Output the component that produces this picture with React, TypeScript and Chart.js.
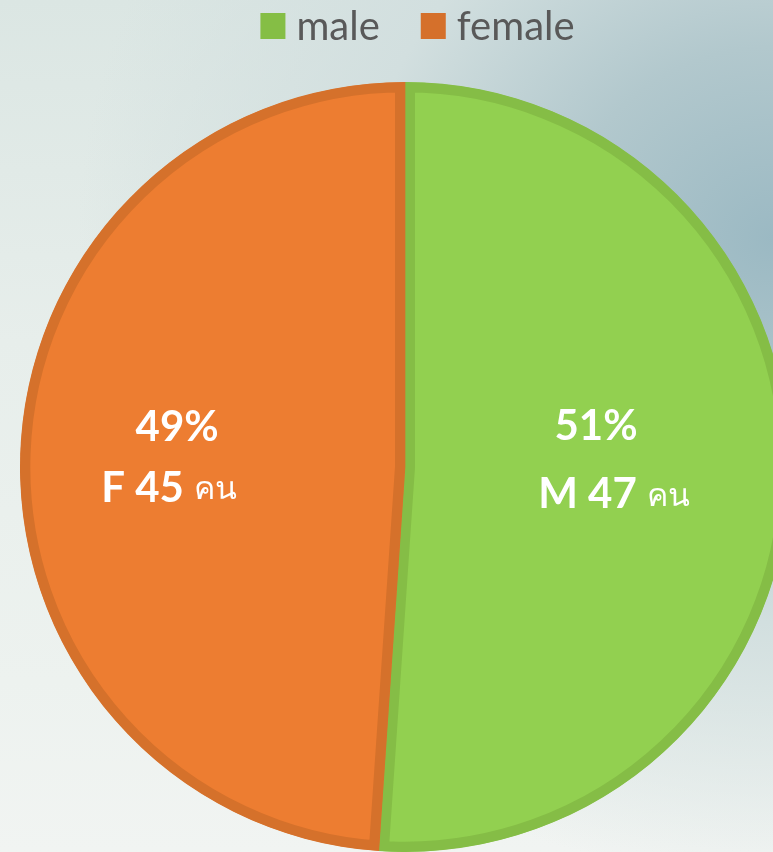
import React, { useEffect, useRef } from "react";
import { Chart, registerables } from "chart.js";

Chart.register(...registerables);

// ---- data ----
const categories: string[] = ["male", "female"];
const counts: number[] = [47, 45];
const prefixes: string[] = ["M", "F"];
const unitLabel = "คน";

// ---- styles ----
const fillColors = ["#92d050", "#ed7d31"];
const borderColors = ["#85bd46", "#d5712b"];
const legendColors = ["#85be45", "#d5702b"];
const LATIN = "Lato, 'Open Sans', 'Noto Sans', sans-serif";

const W = 810;
const H = 852;

// label placement relative to each slice (fraction of radius, line offsets)
const labelRadius = [0.52, 0.6];
const pctOffset = [
  { dx: -9, dy: -47 },
  { dx: 3, dy: -32 },
];
const cntOffset = [
  { dx: 9, dy: 21 },
  { dx: -5, dy: 29 },
];

const legendPlugin = {
  id: "topLegend",
  afterDraw(chart: any) {
    const ctx = chart.ctx as CanvasRenderingContext2D;
    const box = 25;
    const gapText = 11;
    const gapItem = 41;
    ctx.save();
    ctx.font = `40px ${LATIN}`;
    ctx.textBaseline = "middle";
    const widths = categories.map((c) => box + gapText + ctx.measureText(c).width);
    const total = widths.reduce((a, b) => a + b, 0) + gapItem * (categories.length - 1);
    let x = 417.5 - total / 2;
    const cy = 26;
    categories.forEach((c, i) => {
      ctx.fillStyle = legendColors[i];
      ctx.fillRect(x, cy - 13, box, 26);
      ctx.fillStyle = "#595959";
      ctx.textAlign = "left";
      ctx.fillText(c, x + box + gapText, cy + 1);
      x += widths[i] + gapItem;
    });
    ctx.restore();
  },
};

const labelPlugin = {
  id: "sliceLabels",
  afterDatasetsDraw(chart: any) {
    const ctx = chart.ctx as CanvasRenderingContext2D;
    const meta = chart.getDatasetMeta(0);
    const total = counts.reduce((a, b) => a + b, 0);
    ctx.save();
    ctx.fillStyle = "#ffffff";
    ctx.textBaseline = "middle";
    meta.data.forEach((arc: any, i: number) => {
      const p = arc.getProps(["x", "y", "startAngle", "endAngle", "outerRadius"], true);
      const mid = (p.startAngle + p.endAngle) / 2;
      const px = p.x + Math.cos(mid) * p.outerRadius * labelRadius[i];
      const py = p.y + Math.sin(mid) * p.outerRadius * labelRadius[i];
      const pct = Math.round((counts[i] / total) * 100) + "%";
      ctx.font = `bold 42px ${LATIN}`;
      ctx.textAlign = "center";
      ctx.fillText(pct, px + pctOffset[i].dx, py + pctOffset[i].dy);
      // count line: bold "M 47" + smaller " คน"
      const main = `${prefixes[i]} ${counts[i]} `;
      ctx.font = `bold 42px ${LATIN}`;
      const w1 = ctx.measureText(main).width;
      ctx.font = `32px 'Noto Sans', ${LATIN}`;
      const w2 = ctx.measureText(unitLabel).width;
      const sx = px + cntOffset[i].dx - (w1 + w2) / 2;
      const ly = py + cntOffset[i].dy;
      ctx.textAlign = "left";
      ctx.font = `bold 42px ${LATIN}`;
      ctx.fillText(main, sx, ly);
      ctx.font = `32px 'Noto Sans', ${LATIN}`;
      ctx.fillText(unitLabel, sx + w1, ly + 2);
    });
    ctx.restore();
  },
};

export default function App() {
  const ref = useRef<HTMLCanvasElement | null>(null);
  useEffect(() => {
    if (!ref.current) return;
    const chart = new Chart(ref.current, {
      type: "pie",
      data: {
        labels: categories,
        datasets: [
          {
            data: counts,
            backgroundColor: fillColors,
            borderColor: borderColors,
            borderWidth: 10,
            borderAlign: "inner",
          } as any,
        ],
      },
      options: {
        responsive: false,
        maintainAspectRatio: false,
        animation: false,
        layout: { padding: { top: 82, left: 0, right: 0, bottom: 0 } },
        plugins: {
          legend: { display: false },
          tooltip: { enabled: false },
        },
      },
      plugins: [labelPlugin, legendPlugin],
    });
    return () => chart.destroy();
  }, []);
  return (
    <div
      style={{
        position: "fixed",
        left: 0,
        top: 0,
        width: 773,
        height: 852,
        overflow: "hidden",
        background:
          "radial-gradient(ellipse 90% 75% at 100% 28%, #9bb9c3 0%, #b2c8cd 30%, #d2dfdf 60%, rgba(232,239,236,0) 100%), linear-gradient(180deg, #dbe6e3 0%, #e7eeeb 40%, #edf2ef 80%, #f1f4f2 100%)",
      }}
    >
      <canvas ref={ref} width={W} height={H} style={{ display: "block", width: W, height: H }} />
    </div>
  );
}
